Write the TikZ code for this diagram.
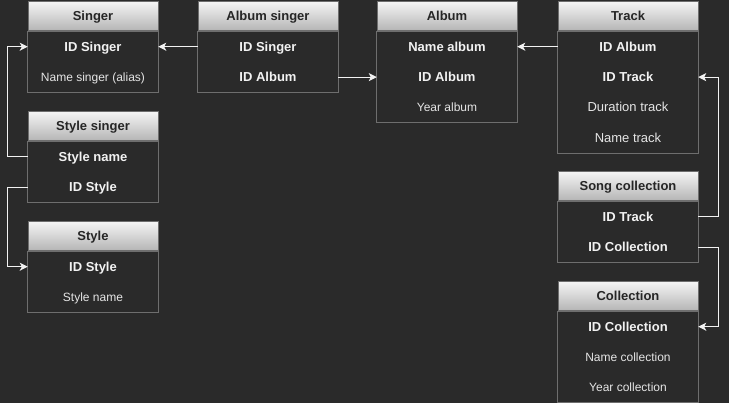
\documentclass[tikz,border=0pt]{standalone}
\usepackage{fontspec}
\setmainfont{Liberation Sans}
\usetikzlibrary{positioning,arrows.meta}
\definecolor{bg}{HTML}{2A2A2A}
\definecolor{bord}{HTML}{6E6E6E}
\definecolor{hdtop}{HTML}{F4F4F4}
\definecolor{hdbot}{HTML}{B4B4B4}
\definecolor{lnk}{HTML}{F2F2F2}

\begin{document}
\begin{tikzpicture}[x=1pt, y=1pt,
	hdr/.style={draw=bord, line width=1, top color=hdtop, bottom color=hdbot, minimum height=29, inner sep=0, text height=10.5, text depth=1.5, text=black!85, font=\bfseries\fontsize{13}{15}\selectfont},
	key/.style={minimum height=30, inner sep=0, text height=10.5, text depth=1.5, text=lnk, font=\bfseries\fontsize{13}{15}\selectfont},
	attr/.style={minimum height=30, inner sep=0, text height=10.5, text depth=1.5, text=white!90!black, font=\fontsize{13}{15}\selectfont},
	note/.style={attr, font=\fontsize{12}{14}\selectfont},
	box/.style={draw=bord, line width=1},
	link/.style={draw=lnk, line width=1, -{Stealth[length=8, width=8, inset=2]}}]
	%background
	\fill[bg] (0,0) rectangle (729,-403);

	%left column
	\begin{scope}[every node/.append style={minimum width=130}]
	\node[hdr] (sgr) at (93,-16.5) {Singer};
	\node[key, below=0pt of sgr] (sgrid) {ID Singer};
	\node[note, below=0pt of sgrid] (sgrname) {Name singer (alias)};
	\draw[box] (sgr.south west) rectangle (sgrname.south east);

	\node[hdr] (ss) at (93,-126.5) {Style singer};
	\node[key, below=0pt of ss] (ssname) {Style name};
	\node[key, below=0pt of ssname] (ssid) {ID Style};
	\draw[box] (ss.south west) rectangle (ssid.south east);

	\node[hdr] (sty) at (93,-236.5) {Style};
	\node[key, below=0pt of sty] (styid) {ID Style};
	\node[note, below=0pt of styid] (styname) {Style name};
	\draw[box] (sty.south west) rectangle (styname.south east);
	\end{scope}

	%middle
	\begin{scope}[every node/.append style={minimum width=140}]
	\node[hdr] (as) at (268,-16.5) {Album singer};
	\node[key, below=0pt of as] (assgr) {ID Singer};
	\node[key, below=0pt of assgr] (asalb) {ID Album};
	\draw[box] (as.south west) rectangle (asalb.south east);

	\node[hdr] (alb) at (447,-16.5) {Album};
	\node[key, below=0pt of alb] (albname) {Name album};
	\node[key, below=0pt of albname] (albid) {ID Album};
	\node[note, below=0pt of albid] (albyear) {Year album};
	\draw[box] (alb.south west) rectangle (albyear.south east);
	\end{scope}

	%right column
	\begin{scope}[every node/.append style={minimum width=140}]
	\node[hdr] (trk) at (628,-16.5) {Track};
	\node[key, below=0pt of trk] (trkalb) {ID Album};
	\node[key, below=0pt of trkalb] (trkid) {ID Track};
	\node[attr, below=0pt of trkid] (trkdur) {Duration track};
	\node[attr, below=0pt of trkdur] (trkname) {Name track};
	\draw[box] (trk.south west) rectangle (trkname.south east);

	\node[hdr] (sc) at (628,-186.5) {Song collection};
	\node[key, below=0pt of sc] (sctrk) {ID Track};
	\node[key, below=0pt of sctrk] (sccol) {ID Collection};
	\draw[box] (sc.south west) rectangle (sccol.south east);

	\node[hdr] (col) at (628,-296.5) {Collection};
	\node[key, below=0pt of col] (colid) {ID Collection};
	\node[note, below=0pt of colid] (colname) {Name collection};
	\node[note, below=0pt of colname] (colyear) {Year collection};
	\draw[box] (col.south west) rectangle (colyear.south east);
	\end{scope}

	%links
	\draw[link] (assgr.west) -- (sgrid.east);
	\draw[link] (asalb.east) -- (albid.west);
	\draw[link] (trkalb.west) -- (albname.east);
	\draw[link] (sctrk.east) -- ++(20,0) |- (trkid.east);
	\draw[link] (sccol.east) -- ++(20,0) |- (colid.east);
	\draw[link] (ssname.west) -- ++(-20,0) |- (sgrid.west);
	\draw[link] (ssid.west) -- ++(-20,0) |- (styid.west);
\end{tikzpicture}
\end{document}
